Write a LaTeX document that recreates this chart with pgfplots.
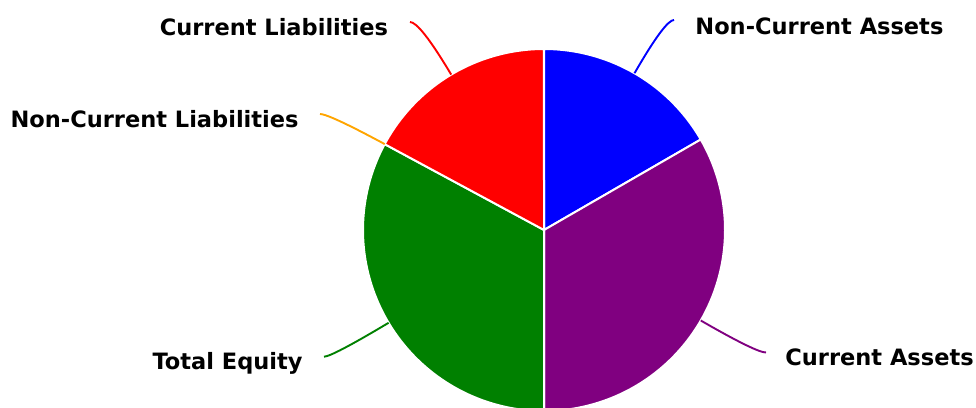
\documentclass[border=0pt]{standalone}
\usepackage{fontspec}
\setmainfont{DejaVu Sans}
\usepackage{pgfplots}
\usepackage{pgfplotstable}
\pgfplotsset{compat=1.18}
\usetikzlibrary{calc}
\definecolor{cNCA}{RGB}{0,0,255}
\definecolor{cCA}{RGB}{128,0,128}
\definecolor{cTE}{RGB}{0,128,0}
\definecolor{cNCL}{RGB}{255,165,0}
\definecolor{cCL}{RGB}{255,0,0}
\newcommand\leader[4]{\draw[#1, line width=0.95bp] (#2) .. controls ($(#2)!0.6667!(#3)$) and ($(#4)!0.6667!(#3)$) .. (#4);}
\pgfplotstableread{
label value
NCA 50
CA 100
TE 98.6
NCL 0
CL 51.4
}\datatable
\pgfplotstablegetelem{0}{value}\of\datatable \let\vA\pgfplotsretval
\pgfplotstablegetelem{1}{value}\of\datatable \let\vB\pgfplotsretval
\pgfplotstablegetelem{2}{value}\of\datatable \let\vC\pgfplotsretval
\pgfplotstablegetelem{3}{value}\of\datatable \let\vD\pgfplotsretval
\pgfplotstablegetelem{4}{value}\of\datatable \let\vE\pgfplotsretval
\pgfmathsetmacro\total{\vA+\vB+\vC+\vD+\vE}
\pgfmathsetmacro\aZero{90}
\pgfmathsetmacro\aOne{\aZero-360*(\vA/\total)}
\pgfmathsetmacro\aTwo{\aOne-360*(\vB/\total)}
\pgfmathsetmacro\aThree{\aTwo-360*(\vC/\total)}
\pgfmathsetmacro\aFour{\aThree-360*(\vD/\total)}
\pgfmathsetmacro\aFive{\aFour-360*(\vE/\total)}
\begin{document}%
\begin{tikzpicture}
\begin{axis}[width=488bp,height=204bp,scale only axis,
  xmin=0,xmax=976,ymin=0,ymax=408,hide axis,clip=true]
\addplot[fill=cNCA, draw=white, line width=1bp, line join=round, domain=\aOne:\aZero, samples=90, variable=\t]
  ({544+181*cos(\t)},{178+181*sin(\t)}) -- (axis cs:544,178) -- cycle;
\addplot[fill=cCA, draw=white, line width=1bp, line join=round, domain=\aTwo:\aOne, samples=120, variable=\t]
  ({544+181*cos(\t)},{178+181*sin(\t)}) -- (axis cs:544,178) -- cycle;
\addplot[fill=cTE, draw=white, line width=1bp, line join=round, domain=\aThree:\aTwo, samples=120, variable=\t]
  ({544+181*cos(\t)},{178+181*sin(\t)}) -- (axis cs:544,178) -- cycle;
\addplot[fill=cCL, draw=white, line width=1bp, line join=round, domain=\aFive:\aFour, samples=90, variable=\t]
  ({544+181*cos(\t)},{178+181*sin(\t)}) -- (axis cs:544,178) -- cycle;
% leader lines
\leader{cNCA}{axis cs:634.5,334.75}{axis cs:665.2,388}{axis cs:674,388}
\leader{cCA}{axis cs:700.75,87.5}{axis cs:756.2,55.5}{axis cs:766,55.5}
\leader{cTE}{axis cs:388.6,85.2}{axis cs:331.8,51.3}{axis cs:324,51.3}
\leader{cNCL}{axis cs:384.7,263.9}{axis cs:328.8,294}{axis cs:320,294}
\leader{cCL}{axis cs:451.2,333.4}{axis cs:419.8,386}{axis cs:410,386}
% labels
\tikzset{lbl/.style={inner sep=0pt, font=\fontsize{11.3}{13}\selectfont\bfseries}}
\node[lbl, anchor=base west] at (axis cs:695,373.7) {Non-Current Assets};
\node[lbl, anchor=base west] at (axis cs:785,42) {Current Assets};
\node[lbl, anchor=base east] at (axis cs:303,38) {Total Equity};
\node[lbl, anchor=base east] at (axis cs:299,280.3) {Non-Current Liabilities};
\node[lbl, anchor=base east] at (axis cs:388.5,372) {Current Liabilities};
\end{axis}
\pgfresetboundingbox
\path[use as bounding box] (current axis.south west) rectangle (current axis.north east);
\end{tikzpicture}%
\end{document}
